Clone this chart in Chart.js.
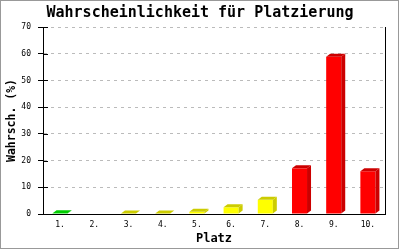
<!DOCTYPE html>
<html>
<head>
<meta charset="utf-8">
<script src="https://cdn.jsdelivr.net/npm/chart.js@4"></script>
<style>
  html, body { margin: 0; padding: 0; background: #fff; }
  #wrap { width: 400px; height: 250px; }
</style>
</head>
<body>
<div id="wrap"><canvas id="chart" width="400" height="250"></canvas></div>
<script>
// Daten
const plaetze = ["1.", "2.", "3.", "4.", "5.", "6.", "7.", "8.", "9.", "10."];
const wahrscheinlichkeit = [0.3, 0, 0.2, 0.2, 0.8, 2.5, 5.3, 17.1, 58.9, 16.0];
const yTicks = [0, 10, 20, 30, 40, 50, 60, 70];

// Farben (vorne / dunkel für 3D-Flächen)
const frontColors = ["#00ff00", "#00ff00", "#ffff00", "#ffff00", "#ffff00", "#ffff00", "#ffff00", "#ff0000", "#ff0000", "#ff0000"];
const darkColors  = ["#00cc00", "#00cc00", "#cccc00", "#cccc00", "#cccc00", "#cccc00", "#cccc00", "#cc0000", "#cc0000", "#cc0000"];

const MONO = "'DejaVu Sans Mono', 'Liberation Mono', monospace";

// 3D-Effekt + Rahmen + Striche
const extras = {
    id: "extras",
    afterDatasetsDraw(chart) {
        const ctx = chart.ctx;
        const meta = chart.getDatasetMeta(0);
        const dx = 4, dy = 3;
        meta.data.forEach((bar, i) => {
            if (!wahrscheinlichkeit[i]) return;
            const left = bar.x - bar.width / 2;
            const right = bar.x + bar.width / 2;
            const top = bar.y;
            const base = bar.base;
            ctx.save();
            ctx.fillStyle = darkColors[i];
            // Oberseite
            ctx.beginPath();
            ctx.moveTo(left, top);
            ctx.lineTo(left + dx, top - dy);
            ctx.lineTo(right + dx, top - dy);
            ctx.lineTo(right, top);
            ctx.closePath();
            ctx.fill();
            // Seite
            ctx.beginPath();
            ctx.moveTo(right, top);
            ctx.lineTo(right + dx, top - dy);
            ctx.lineTo(right + dx, base - dy);
            ctx.lineTo(right, base);
            ctx.closePath();
            ctx.fill();
            ctx.restore();
        });
    },
    afterDraw(chart) {
        const ctx = chart.ctx;
        const area = chart.chartArea;
        const y = chart.scales.y;
        ctx.save();
        ctx.strokeStyle = "#000";
        ctx.lineWidth = 1;
        // Striche nach innen
        yTicks.forEach(v => {
            const py = Math.round(y.getPixelForValue(v)) + 0.5;
            ctx.beginPath();
            ctx.moveTo(area.left, py);
            ctx.lineTo(area.left + 5, py);
            ctx.stroke();
        });
        // rechte Linie
        const rx = Math.round(area.right) + 0.5;
        ctx.beginPath();
        ctx.moveTo(rx, area.top);
        ctx.lineTo(rx, area.bottom);
        ctx.stroke();
        // Rahmen
        ctx.strokeStyle = "#999";
        ctx.strokeRect(0.5, 0.5, 398, 248);
        ctx.restore();
    }
};

new Chart(document.getElementById("chart"), {
    type: "bar",
    data: {
        labels: plaetze,
        datasets: [{
            data: wahrscheinlichkeit,
            backgroundColor: frontColors,
            borderWidth: 0,
            barPercentage: 0.44,
            categoryPercentage: 1
        }]
    },
    options: {
        responsive: false,
        animation: false,
        layout: { padding: 0 },
        plugins: {
            legend: { display: false },
            tooltip: { enabled: false },
            title: {
                display: true,
                text: "Wahrscheinlichkeit für Platzierung",
                color: "#000",
                font: { family: MONO, size: 15, weight: "bold" },
                padding: { top: 4, bottom: 5 }
            }
        },
        scales: {
            x: {
                grid: { display: false, drawTicks: false },
                border: { color: "#000", width: 1 },
                ticks: { color: "#000", font: { family: MONO, size: 8 }, padding: 6, maxRotation: 0 },
                title: {
                    display: true,
                    text: "Platz",
                    color: "#000",
                    font: { family: MONO, size: 12, weight: "bold" },
                    padding: { top: 0, bottom: 4 }
                },
                afterFit(scale) { scale.height = 36; }
            },
            y: {
                min: 0,
                max: 70,
                afterBuildTicks(scale) { scale.ticks = yTicks.map(v => ({ value: v })); },
                grid: { color: "#bbbbbb", tickColor: "#000", tickLength: 5, tickBorderDash: [] },
                border: { color: "#000", width: 1, dash: [3, 4] },
                ticks: { color: "#000", font: { family: MONO, size: 8 }, padding: 7 },
                title: {
                    display: true,
                    text: "Wahrsch. (%)",
                    color: "#000",
                    font: { family: MONO, size: 11.5, weight: "bold" },
                    padding: { top: 5, bottom: 0 }
                },
                afterFit(scale) { scale.width = 43; }
            },
            // leerer Rand rechts
            rechts: {
                position: "right",
                display: true,
                grid: { display: false, drawTicks: false },
                border: { display: false },
                ticks: { display: false },
                afterFit(scale) { scale.width = 15; }
            }
        }
    },
    plugins: [extras]
});
</script>
</body>
</html>
